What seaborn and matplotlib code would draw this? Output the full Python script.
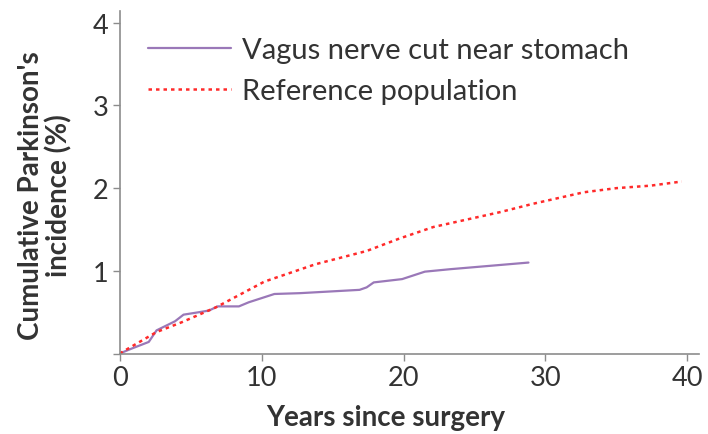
import matplotlib
matplotlib.use("Agg")
import matplotlib.pyplot as plt
import seaborn as sns
import pandas as pd

# Data
vagus_years = [0, 0.85, 2.05, 2.6, 3.9, 4.5, 5.6, 6.3, 6.9, 8.4, 9.1, 10.9, 12.7, 16.9, 17.4, 17.9, 19.9, 21.5, 23.3, 28.8]
vagus_incidence = [0, 0.06, 0.14, 0.28, 0.39, 0.47, 0.50, 0.52, 0.57, 0.57, 0.62, 0.72, 0.73, 0.77, 0.80, 0.86, 0.90, 0.99, 1.02, 1.10]

ref_years = [0, 2.6, 4.4, 6.8, 10.2, 13.8, 17.4, 19.7, 22.1, 26.8, 29.1, 32.7, 35.0, 37.4, 39.6]
ref_incidence = [0, 0.26, 0.38, 0.56, 0.87, 1.08, 1.24, 1.39, 1.53, 1.71, 1.81, 1.95, 2.00, 2.03, 2.08]

series_names = ["Vagus nerve cut near stomach", "Reference population"]
x_ticks = [0, 10, 20, 30, 40]
y_ticks = [0, 1, 2, 3, 4]
y_tick_labels = ["", "1", "2", "3", "4"]

sns.set_style("white")
plt.rcParams["font.family"] = ["Lato", "DejaVu Sans"]

df_v = pd.DataFrame({"years": vagus_years, "inc": vagus_incidence})
df_r = pd.DataFrame({"years": ref_years, "inc": ref_incidence})

fig = plt.figure(figsize=(7.08, 4.35), dpi=100)
ax = fig.add_axes([0.169, 0.185, 0.818, 0.787])

sns.lineplot(data=df_v, x="years", y="inc", ax=ax, color="#9a78b8", lw=1.6,
             label=series_names[0])
sns.lineplot(data=df_r, x="years", y="inc", ax=ax, color="#ff2a2a", lw=1.8,
             linestyle=(0, (1.4, 1.6)), label=series_names[1])

ax.set_xlim(0, 40.8)
ax.set_ylim(0, 4.14)
ax.set_xticks(x_ticks)
ax.set_yticks(y_ticks)
ax.set_yticklabels(y_tick_labels)

for side in ["top", "right"]:
    ax.spines[side].set_visible(False)
for side in ["left", "bottom"]:
    ax.spines[side].set_color("#8c8c8c")
    ax.spines[side].set_linewidth(1.2)

ax.tick_params(axis="both", which="major", direction="out", length=5, width=1,
               color="#8c8c8c", labelsize=19.5, labelcolor="#333333", pad=3,
               bottom=True, left=True)

ax.set_xlabel("Years since surgery", fontsize=20, fontweight="bold", color="#333333")
ax.xaxis.set_label_coords(0.46, -0.148)
ax.set_ylabel("Cumulative Parkinson's\nincidence (%)", fontsize=20, fontweight="bold",
              color="#333333", linespacing=1.05)
ax.yaxis.set_label_coords(-0.082, 0.465)

leg = ax.legend(loc="upper left", bbox_to_anchor=(0.028, 0.958), frameon=False, fontsize=21,
                handlelength=2.85, handletextpad=0.4, labelspacing=0.5,
                borderaxespad=0.0, labelcolor="#333333")

fig.savefig("out.png", dpi=100)
